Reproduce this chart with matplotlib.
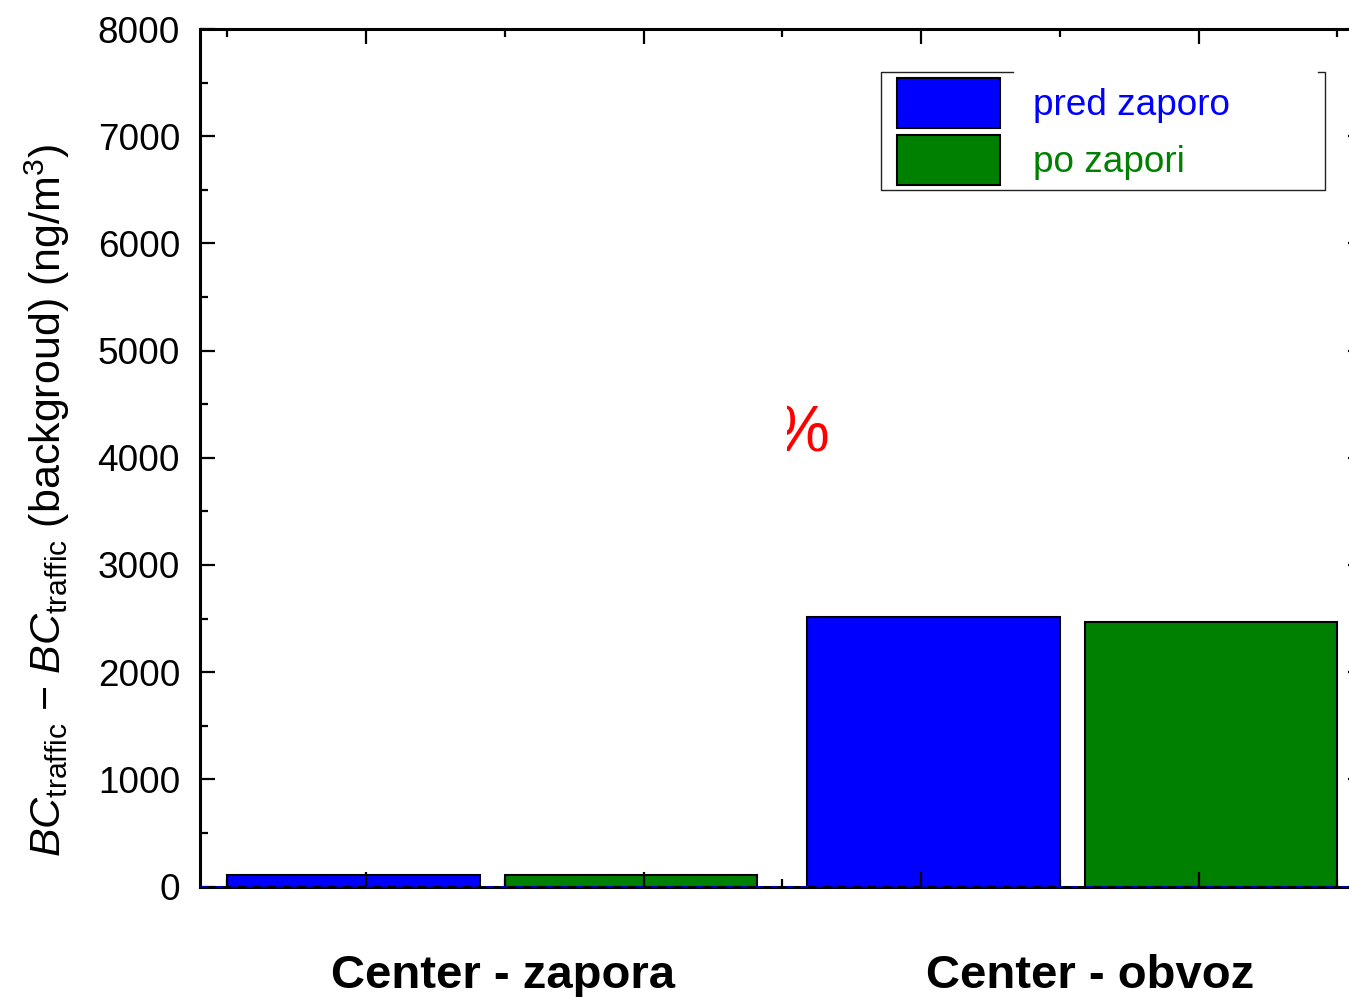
import matplotlib
matplotlib.use("Agg")
import matplotlib.pyplot as plt
from matplotlib.lines import Line2D
from matplotlib.transforms import Bbox, TransformedBbox, blended_transform_factory
from matplotlib.ticker import MultipleLocator

plt.rcParams['font.family'] = ['Liberation Sans', 'DejaVu Sans']
plt.rcParams['mathtext.fontset'] = 'custom'
plt.rcParams['mathtext.rm'] = 'Liberation Sans'
plt.rcParams['mathtext.it'] = 'Liberation Sans:italic'
plt.rcParams['mathtext.bf'] = 'Liberation Sans:bold'

# BC excess over background, two sites, before / after the road closure
sites = ['Center - zapora', 'Center - obvoz']
group_pos = [1.455, 3.545]
pred_zaporo = [105, 2510]
po_zapori = [105, 2465]
series_labels = ['pred zaporo', 'po zapori']

W, H = 1349, 997
fig = plt.figure(figsize=(W / 100, H / 100), dpi=100)

# axes box in pixels: left 199.5, right 1363 (runs past the edge), top 29, bottom 886.5
x_right = 1363
ax = fig.add_axes([199.5 / W, 1 - 886.5 / H, (x_right - 199.5) / W, (886.5 - 29) / H])

bar_w = 0.91
x_pred = [g - 0.5 for g in group_pos]
x_po = [g + 0.5 for g in group_pos]
ax.bar(x_pred, pred_zaporo, width=bar_w, color='#0000ff', edgecolor='black',
       linewidth=1.5, label=series_labels[0])
ax.bar(x_po, po_zapori, width=bar_w, color='#008000', edgecolor='black',
       linewidth=1.5, label=series_labels[1])

# dashed baseline at zero
ax.axhline(0, color='#0000ff', linewidth=1.8, linestyle=(0, (3, 3)), zorder=3)

ax.set_xlim(0.4, 0.4 + (x_right - 199.5) / 277.5)
ax.set_ylim(0, 8000)
ax.xaxis.set_major_locator(MultipleLocator(1))
ax.xaxis.set_minor_locator(MultipleLocator(0.5))
ax.yaxis.set_major_locator(MultipleLocator(1000))
ax.yaxis.set_minor_locator(MultipleLocator(500))
ax.tick_params(which='both', direction='in', top=True, right=True, width=1.6,
               labelbottom=False, labelsize=26.6, pad=14)
ax.tick_params(which='major', length=10.8)
ax.tick_params(which='minor', length=5.8)
for sp in ax.spines.values():
    sp.set_linewidth(2.2)

# category names under the axis
trans = blended_transform_factory(ax.transData, fig.transFigure)
for g, name, dx in zip(group_pos, sites, [0.04, 0.065]):
    ax.text(g + dx, 1 - 988 / H, name, transform=trans, ha='center', va='baseline',
            fontsize=34, fontweight='bold', clip_on=False)

fig.text(47 / W, 1 - 500 / H,
         r'$BC_{\mathrm{traffic}}$ − $BC_{\mathrm{traffic}}$ (backgroud) (ng/m$^{3}$)',
         rotation=90, ha='center', va='center', fontsize=31)

# legend entries, frame drawn separately
leg = ax.legend(loc='upper left', bbox_to_anchor=(897 / W, 1 - 78 / H),
                bbox_transform=fig.transFigure, frameon=False, fontsize=26.6,
                handlelength=2.78, handleheight=1.70, handletextpad=0.89,
                labelspacing=0.19, borderpad=0, borderaxespad=0,
                labelcolor=['#0000ff', '#008000'])
fx = [1013, 881, 881, 1325, 1325, 1318]
fy = [72, 72, 190, 190, 72, 72]
fig.add_artist(Line2D([x / W for x in fx], [1 - y / H for y in fy],
                      transform=fig.transFigure, color='#222222', linewidth=1.0))

# red percentage label, left part hidden
pct = fig.text(773 / W, 1 - 452 / H, '%', color='#ff0000', fontsize=46,
               ha='left', va='baseline')
pct.set_clip_box(TransformedBbox(Bbox([[787 / W, 0], [1, 1]]), fig.transFigure))

fig.savefig('out.png', dpi=100)
